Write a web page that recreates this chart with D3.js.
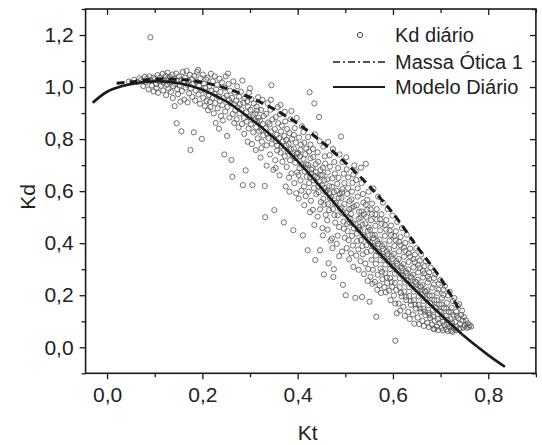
<!DOCTYPE html>
<html>
<head>
<meta charset="utf-8">
<script src="https://cdn.jsdelivr.net/npm/d3@7"></script>
<style>
  html, body { margin: 0; padding: 0; background: #fff; }
  svg { display: block; }
  text { font-family: "Liberation Sans", Arial, sans-serif; fill: #222; }
</style>
</head>
<body>
<svg id="chart" width="542" height="445"></svg>
<script>
// ---- data ----
const xTicks = [0, 0.2, 0.4, 0.6, 0.8];
const xTickLabels = ["0,0", "0,2", "0,4", "0,6", "0,8"];
const xMinorTicks = [0.1, 0.3, 0.5, 0.7, 0.9];
const yTicks = [0, 0.2, 0.4, 0.6, 0.8, 1.0, 1.2];
const yTickLabels = ["0,0", "0,2", "0,4", "0,6", "0,8", "1,0", "1,2"];
const yMinorTicks = [-0.1, 0.1, 0.3, 0.5, 0.7, 0.9, 1.1, 1.3];

const legendLabels = ["Kd diário", "Massa Ótica 1", "Modelo Diário"];

// Modelo Diário (solid curve)
const modeloKt = [-0.03, 0.0, 0.03, 0.06, 0.1, 0.13, 0.16, 0.2, 0.25, 0.3, 0.35, 0.4, 0.45, 0.5, 0.55, 0.6, 0.65, 0.7, 0.75, 0.8, 0.835];
const modeloKd = [0.94, 0.982, 1.003, 1.015, 1.022, 1.02, 1.012, 0.99, 0.945, 0.88, 0.805, 0.715, 0.612, 0.505, 0.403, 0.307, 0.215, 0.126, 0.042, -0.03, -0.075];

// Massa Ótica 1 (dashed curve)
const massaKt = [0.02, 0.05, 0.1, 0.15, 0.2, 0.25, 0.3, 0.35, 0.4, 0.45, 0.5, 0.55, 0.6, 0.65, 0.7, 0.742];
const massaKd = [1.015, 1.02, 1.03, 1.03, 1.018, 0.995, 0.96, 0.915, 0.86, 0.79, 0.71, 0.62, 0.515, 0.388, 0.265, 0.135];

// Kd diário observations: [Kt, Kd]
const kdDiario = [
[0.046,1.021],[0.057,1.028],[0.063,1.019],[0.068,1.034],[0.072,1.027],[0.076,1.004],[0.079,1.039],
[0.081,1.018],[0.084,1.032],[0.087,0.991],[0.089,1.041],
[0.091,1.191],[0.092,1.024],[0.094,1.006],[0.097,1.036],[0.098,0.983],
[0.101,1.031],[0.103,1.012],[0.106,1.046],[0.107,0.978],[0.109,1.022],[0.104,0.996],
[0.111,1.037],[0.113,1.005],[0.115,1.028],[0.117,1.051],[0.118,0.987],[0.119,1.016],
[0.121,1.024],[0.123,1.043],[0.124,0.969],[0.126,1.009],[0.128,1.033],[0.129,0.994],[0.127,1.055],
[0.131,1.018],[0.132,1.039],[0.134,0.982],[0.136,1.026],[0.137,1.048],[0.139,1.003],[0.138,0.958],
[0.141,1.031],[0.142,0.927],[0.143,1.011],[0.145,1.052],[0.146,0.861],[0.147,0.992],[0.148,1.024],[0.149,0.973],
[0.151,1.041],[0.152,1.006],[0.154,0.944],[0.155,1.029],[0.156,0.83],[0.157,0.985],[0.159,1.058],
[0.161,1.017],[0.162,0.952],[0.164,1.036],[0.165,0.998],[0.167,1.062],[0.168,1.009],[0.169,0.941],
[0.171,1.024],[0.172,0.976],[0.174,1.047],[0.175,0.758],[0.176,0.995],[0.178,1.031],[0.179,0.962],
[0.181,1.012],[0.182,0.826],[0.183,1.043],[0.185,0.948],[0.186,0.987],[0.187,1.021],[0.189,1.058],
[0.191,1.066],[0.192,0.971],[0.193,1.005],[0.195,0.936],[0.196,1.034],[0.198,0.99],[0.199,0.801],
[0.201,1.048],[0.202,0.958],[0.204,1.013],[0.205,0.927],[0.207,0.982],[0.208,1.029],[0.209,0.947],[0.206,0.998],
[0.211,1.036],[0.212,0.911],[0.214,0.969],[0.215,1.004],[0.216,0.943],[0.218,1.051],[0.219,0.985],[0.217,0.923],
[0.221,0.958],[0.222,1.022],[0.224,0.899],[0.225,0.975],[0.226,1.041],[0.227,0.938],[0.229,0.991],[0.228,0.862],
[0.231,1.009],[0.232,0.918],[0.234,0.963],[0.235,0.84],[0.236,1.032],[0.237,0.947],[0.238,0.981],[0.239,0.889],
[0.241,1.018],[0.242,0.93],[0.243,0.872],[0.245,0.958],[0.246,0.741],[0.247,0.997],[0.248,0.906],[0.249,1.041],
[0.251,0.967],[0.252,0.812],[0.253,0.924],[0.255,1.012],[0.256,0.951],[0.257,0.883],[0.258,0.986],[0.259,0.938],[0.254,1.052],
[0.261,0.72],[0.262,0.958],[0.263,0.655],[0.264,0.897],[0.265,1.022],[0.266,0.934],[0.267,0.862],[0.268,0.979],[0.269,0.911],
[0.271,0.948],[0.272,0.876],[0.273,1.003],[0.274,0.921],[0.276,0.845],[0.277,0.963],[0.278,0.899],[0.279,0.935],
[0.281,0.982],[0.282,0.914],[0.283,0.858],[0.284,1.025],[0.285,0.623],[0.286,0.939],[0.287,0.881],[0.288,0.82],[0.289,0.957],
[0.291,0.68],[0.292,0.903],[0.293,0.867],[0.294,0.946],[0.295,0.79],[0.296,0.924],[0.297,0.841],[0.298,0.978],[0.299,0.885],
[0.301,0.913],[0.302,0.857],[0.303,0.954],[0.304,0.781],[0.305,0.623],[0.306,0.892],[0.307,0.826],[0.308,0.937],[0.309,0.872],[0.3,0.995],
[0.311,0.898],[0.312,0.758],[0.313,0.846],[0.314,0.925],[0.315,0.869],[0.316,0.803],[0.317,0.961],[0.318,0.882],[0.319,0.829],[0.315,0.91],
[0.321,0.871],[0.322,0.729],[0.323,0.912],[0.324,0.835],[0.325,0.79],[0.326,0.951],[0.327,0.858],[0.328,0.814],[0.329,0.889],[0.324,0.765],
[0.331,0.62],[0.332,0.5],[0.333,0.842],[0.334,0.897],[0.335,0.776],[0.336,0.821],[0.337,0.938],[0.338,0.864],[0.339,0.804],[0.335,0.698],
[0.341,0.857],[0.342,0.741],[0.343,0.913],[0.344,0.829],[0.345,1.007],[0.346,0.782],[0.347,0.876],[0.348,0.806],[0.349,0.682],[0.344,0.951],
[0.351,0.527],[0.352,0.839],[0.353,0.719],[0.354,0.884],[0.355,0.792],[0.356,0.817],[0.357,0.756],[0.358,0.923],[0.359,0.861],[0.354,0.689],[0.357,0.775],
[0.361,0.804],[0.362,0.661],[0.363,0.896],[0.364,0.748],[0.365,0.829],[0.366,0.772],[0.367,0.852],[0.368,0.713],[0.369,0.791],[0.364,0.931],
[0.371,0.48],[0.372,0.812],[0.373,0.734],[0.374,0.868],[0.375,0.618],[0.376,0.776],[0.377,0.693],[0.378,0.839],[0.379,0.753],[0.373,0.905],[0.376,0.797],
[0.381,0.782],[0.382,0.652],[0.383,0.823],[0.384,0.719],[0.385,0.876],[0.386,0.761],[0.387,0.668],[0.388,0.801],[0.389,0.737],[0.383,0.598],[0.387,0.908],
[0.391,0.45],[0.392,0.764],[0.393,0.631],[0.394,0.842],[0.395,0.709],[0.396,0.787],[0.397,0.592],[0.398,0.743],[0.399,0.672],[0.392,0.816],[0.396,0.728],[0.398,0.881],
[0.401,0.747],[0.402,0.571],[0.403,0.806],[0.404,0.688],[0.405,0.733],[0.406,0.641],[0.407,0.779],[0.408,0.702],[0.409,0.849],[0.402,0.662],[0.406,0.758],[0.408,0.602],
[0.411,0.43],[0.412,0.724],[0.413,0.618],[0.414,0.786],[0.415,0.676],[0.416,0.742],[0.417,0.581],[0.418,0.703],[0.419,0.655],[0.412,0.827],[0.416,0.691],[0.418,0.764],[0.414,0.546],
[0.421,0.373],[0.422,0.701],[0.423,0.598],[0.424,0.752],[0.425,0.98],[0.426,0.654],[0.427,0.726],[0.428,0.563],[0.429,0.682],[0.422,0.808],[0.424,0.631],[0.427,0.779],[0.429,0.667],[0.426,0.519],
[0.431,0.688],[0.432,0.528],[0.433,0.731],[0.434,0.612],[0.435,0.937],[0.436,0.659],[0.437,0.335],[0.438,0.704],[0.439,0.589],[0.432,0.762],[0.434,0.641],[0.436,0.818],[0.438,0.674],[0.435,0.47],
[0.441,0.652],[0.442,0.502],[0.443,0.713],[0.444,0.596],[0.445,0.885],[0.446,0.638],[0.447,0.373],[0.448,0.681],[0.449,0.558],[0.442,0.749],[0.444,0.619],[0.446,0.792],[0.448,0.661],[0.447,0.53],
[0.451,0.623],[0.452,0.458],[0.453,0.689],[0.454,0.571],[0.455,0.28],[0.456,0.641],[0.457,0.734],[0.458,0.597],[0.459,0.509],[0.452,0.662],[0.454,0.771],[0.456,0.548],[0.458,0.706],[0.457,0.612],[0.453,0.43],
[0.461,0.601],[0.462,0.488],[0.463,0.672],[0.464,0.55],[0.465,0.323],[0.466,0.619],[0.467,0.738],[0.468,0.573],[0.469,0.41],[0.462,0.645],[0.464,0.789],[0.466,0.527],[0.468,0.694],[0.467,0.592],[0.463,0.452],
[0.471,0.578],[0.472,0.418],[0.473,0.649],[0.474,0.531],[0.475,0.27],[0.476,0.3],[0.477,0.712],[0.478,0.553],[0.479,0.479],[0.472,0.617],[0.474,0.762],[0.476,0.596],[0.478,0.668],[0.477,0.508],[0.473,0.381],
[0.481,0.556],[0.482,0.398],[0.483,0.628],[0.484,0.507],[0.485,0.689],[0.486,0.574],[0.487,0.462],[0.488,0.741],[0.489,0.531],[0.482,0.601],[0.484,0.429],[0.486,0.651],[0.488,0.589],[0.487,0.35],
[0.491,0.81],[0.492,0.537],[0.493,0.368],[0.494,0.608],[0.495,0.24],[0.496,0.483],[0.497,0.667],[0.498,0.551],[0.499,0.421],[0.492,0.574],[0.494,0.712],[0.496,0.514],[0.498,0.631],[0.497,0.456],[0.493,0.596],
[0.501,0.2],[0.502,0.518],[0.503,0.381],[0.504,0.589],[0.505,0.446],[0.506,0.653],[0.507,0.499],[0.508,0.338],[0.509,0.562],[0.502,0.73],[0.504,0.474],[0.506,0.612],[0.508,0.531],[0.507,0.412],[0.503,0.684],[0.509,0.48],
[0.511,0.494],[0.512,0.361],[0.513,0.568],[0.514,0.428],[0.515,0.632],[0.516,0.476],[0.517,0.309],[0.518,0.541],[0.519,0.699],[0.512,0.512],[0.514,0.598],[0.516,0.391],[0.518,0.457],[0.517,0.664],[0.513,0.535],
[0.521,0.19],[0.522,0.473],[0.523,0.352],[0.524,0.546],[0.525,0.408],[0.526,0.611],[0.527,0.452],[0.528,0.298],[0.529,0.521],[0.522,0.676],[0.524,0.437],[0.526,0.579],[0.528,0.494],[0.527,0.376],[0.523,0.643],[0.529,0.462],
[0.531,0.451],[0.532,0.331],[0.533,0.69],[0.534,0.522],[0.535,0.193],[0.536,0.389],[0.537,0.589],[0.538,0.431],[0.539,0.281],[0.532,0.498],[0.534,0.631],[0.536,0.471],[0.538,0.556],[0.537,0.357],[0.533,0.412],[0.539,0.51],
[0.541,0.424],[0.542,0.322],[0.543,0.705],[0.544,0.501],[0.545,0.366],[0.546,0.567],[0.547,0.447],[0.548,0.301],[0.549,0.598],[0.542,0.476],[0.544,0.392],[0.546,0.529],[0.548,0.412],[0.547,0.255],[0.543,0.548],[0.549,0.46],
[0.551,0.175],[0.552,0.404],[0.553,0.271],[0.554,0.488],[0.555,0.336],[0.556,0.552],[0.557,0.431],[0.558,0.298],[0.559,0.61],[0.552,0.451],[0.554,0.371],[0.556,0.512],[0.558,0.389],[0.557,0.244],[0.553,0.53],[0.559,0.42],
[0.561,0.384],[0.562,0.251],[0.563,0.467],[0.564,0.321],[0.565,0.117],[0.566,0.531],[0.567,0.408],[0.568,0.279],[0.569,0.579],[0.562,0.432],[0.564,0.352],[0.566,0.491],[0.568,0.369],[0.567,0.221],[0.563,0.511],[0.569,0.398],
[0.571,0.366],[0.572,0.238],[0.573,0.449],[0.574,0.302],[0.575,0.209],[0.576,0.511],[0.577,0.389],[0.578,0.262],[0.579,0.556],[0.572,0.414],[0.574,0.335],[0.576,0.474],[0.578,0.351],[0.577,0.29],[0.573,0.492],[0.579,0.378],
[0.581,0.347],[0.582,0.231],[0.583,0.428],[0.584,0.284],[0.585,0.211],[0.586,0.489],[0.587,0.369],[0.588,0.247],[0.589,0.531],[0.582,0.396],[0.584,0.318],[0.586,0.452],[0.588,0.333],[0.587,0.268],[0.583,0.47],[0.589,0.358],
[0.591,0.329],[0.592,0.218],[0.593,0.409],[0.594,0.266],[0.595,0.181],[0.596,0.468],[0.597,0.351],[0.598,0.232],[0.599,0.506],[0.592,0.378],[0.594,0.301],[0.596,0.431],[0.598,0.314],[0.597,0.251],[0.593,0.448],[0.599,0.34],
[0.601,0.31],[0.602,0.199],[0.603,0.389],[0.604,0.248],[0.605,0.025],[0.606,0.446],[0.607,0.331],[0.608,0.131],[0.609,0.482],[0.602,0.359],[0.604,0.283],[0.606,0.411],[0.608,0.296],[0.607,0.221],[0.603,0.427],[0.609,0.322],[0.605,0.168],
[0.611,0.292],[0.612,0.168],[0.613,0.369],[0.614,0.231],[0.615,0.141],[0.616,0.424],[0.617,0.311],[0.618,0.196],[0.619,0.458],[0.612,0.339],[0.614,0.266],[0.616,0.392],[0.618,0.278],[0.617,0.209],[0.613,0.405],[0.619,0.305],
[0.621,0.274],[0.622,0.156],[0.623,0.348],[0.624,0.214],[0.625,0.121],[0.626,0.401],[0.627,0.292],[0.628,0.181],[0.629,0.433],[0.622,0.319],[0.624,0.249],[0.626,0.371],[0.628,0.258],[0.627,0.194],[0.623,0.383],[0.629,0.286],
[0.631,0.256],[0.632,0.136],[0.633,0.328],[0.634,0.197],[0.635,0.109],[0.636,0.379],[0.637,0.272],[0.638,0.163],[0.639,0.408],[0.632,0.299],[0.634,0.231],[0.636,0.349],[0.638,0.241],[0.637,0.178],[0.633,0.361],[0.639,0.268],
[0.641,0.238],[0.642,0.126],[0.643,0.307],[0.644,0.181],[0.645,0.091],[0.646,0.356],[0.647,0.252],[0.648,0.149],[0.649,0.381],[0.642,0.279],[0.644,0.214],[0.646,0.327],[0.648,0.224],[0.647,0.164],[0.643,0.339],[0.649,0.25],
[0.651,0.22],[0.652,0.114],[0.653,0.288],[0.654,0.163],[0.655,0.089],[0.656,0.333],[0.657,0.234],[0.658,0.136],[0.659,0.356],[0.652,0.259],[0.654,0.196],[0.656,0.305],[0.658,0.206],[0.657,0.149],[0.653,0.317],[0.659,0.232],
[0.661,0.202],[0.662,0.101],[0.663,0.268],[0.664,0.147],[0.665,0.082],[0.666,0.311],[0.667,0.216],[0.668,0.124],[0.669,0.331],[0.662,0.239],[0.664,0.178],[0.666,0.284],[0.668,0.188],[0.667,0.137],[0.663,0.294],[0.669,0.213],
[0.671,0.184],[0.672,0.094],[0.673,0.249],[0.674,0.132],[0.675,0.078],[0.676,0.288],[0.677,0.198],[0.678,0.112],[0.679,0.306],[0.672,0.219],[0.674,0.161],[0.676,0.262],[0.678,0.171],[0.677,0.125],[0.673,0.272],
[0.681,0.166],[0.682,0.087],[0.683,0.229],[0.684,0.118],[0.685,0.072],[0.686,0.266],[0.687,0.181],[0.688,0.102],[0.689,0.281],[0.682,0.199],[0.684,0.144],[0.686,0.241],[0.688,0.154],[0.687,0.069],
[0.691,0.151],[0.692,0.079],[0.693,0.209],[0.694,0.108],[0.695,0.066],[0.696,0.244],[0.697,0.165],[0.698,0.093],[0.699,0.258],[0.692,0.181],[0.694,0.128],[0.696,0.221],[0.698,0.139],
[0.701,0.136],[0.702,0.074],[0.703,0.19],[0.704,0.098],[0.705,0.065],[0.706,0.222],[0.707,0.151],[0.708,0.085],[0.709,0.236],[0.702,0.165],[0.704,0.117],[0.706,0.201],
[0.711,0.121],[0.712,0.069],[0.713,0.171],[0.714,0.089],[0.715,0.062],[0.716,0.199],[0.717,0.137],[0.718,0.078],[0.719,0.213],[0.712,0.149],[0.714,0.105],
[0.721,0.108],[0.722,0.064],[0.723,0.152],[0.724,0.083],[0.725,0.06],[0.726,0.178],[0.727,0.124],[0.728,0.072],[0.729,0.189],[0.722,0.134],[0.724,0.095],
[0.731,0.098],[0.732,0.066],[0.733,0.136],[0.734,0.079],[0.736,0.159],[0.737,0.112],[0.738,0.071],[0.739,0.166],[0.734,0.121],
[0.741,0.09],[0.742,0.072],[0.743,0.124],[0.745,0.141],[0.746,0.102],[0.748,0.076],[0.749,0.116],
[0.751,0.084],[0.753,0.103],[0.755,0.075],[0.757,0.092],[0.759,0.078],
[0.761,0.085],[0.764,0.08]
];

// ---- chart ----
const svg = d3.select("#chart");
const x = d3.scaleLinear().domain([-0.045, 0.9]).range([85.6, 535.9]);
const y = d3.scaleLinear().domain([-0.1, 1.3]).range([373.3, 9]);
const ink = "#1b1b1b";

// scatter
svg.append("g")
  .selectAll("circle")
  .data(kdDiario)
  .join("circle")
  .attr("cx", d => x(d[0]))
  .attr("cy", d => y(d[1]))
  .attr("r", 2.6)
  .attr("fill", "none")
  .attr("stroke", "#595959")
  .attr("stroke-width", 0.85);

// curves
const massa = massaKt.map((k, i) => [k, massaKd[i]]);
const modelo = modeloKt.map((k, i) => [k, modeloKd[i]]);
const line = d3.line().x(d => x(d[0])).y(d => y(d[1])).curve(d3.curveCatmullRom.alpha(0.5));

svg.append("path").datum(massa)
  .attr("d", line)
  .attr("fill", "none")
  .attr("stroke", ink)
  .attr("stroke-width", 3)
  .attr("stroke-dasharray", "8,5");

svg.append("path").datum(modelo)
  .attr("d", line)
  .attr("fill", "none")
  .attr("stroke", ink)
  .attr("stroke-width", 2.6);

// axes
const pBottom = y.range()[0], pTop = y.range()[1];
const pLeft = x.range()[0], pRight = x.range()[1];

function styleAxis(g) {
  g.select(".domain").remove();
  g.selectAll(".tick line").attr("stroke", ink).attr("stroke-width", 1.3);
  g.selectAll(".tick text").style("font-size", "21px").attr("fill", "#222")
    .style("font-family", '"Liberation Sans", Arial, sans-serif');
}

svg.append("g").attr("transform", `translate(0,${pBottom})`)
  .call(d3.axisBottom(x).tickValues(xTicks).tickSize(6).tickPadding(8)
    .tickFormat((d, i) => xTickLabels[i]))
  .call(styleAxis);
svg.append("g").attr("transform", `translate(0,${pBottom})`)
  .call(d3.axisBottom(x).tickValues(xMinorTicks).tickSize(4).tickFormat(""))
  .call(styleAxis);
svg.append("g").attr("transform", `translate(0,${pTop})`)
  .call(d3.axisTop(x).tickValues(xTicks).tickSize(-6).tickFormat(""))
  .call(styleAxis);
svg.append("g").attr("transform", `translate(0,${pTop})`)
  .call(d3.axisTop(x).tickValues(xMinorTicks).tickSize(-4).tickFormat(""))
  .call(styleAxis);

svg.append("g").attr("transform", `translate(${pLeft},0)`)
  .call(d3.axisLeft(y).tickValues(yTicks).tickSize(6).tickPadding(6)
    .tickFormat((d, i) => yTickLabels[i]))
  .call(styleAxis);
svg.append("g").attr("transform", `translate(${pLeft},0)`)
  .call(d3.axisLeft(y).tickValues(yMinorTicks).tickSize(4).tickFormat(""))
  .call(styleAxis);
svg.append("g").attr("transform", `translate(${pRight},0)`)
  .call(d3.axisRight(y).tickValues(yTicks).tickSize(-6).tickFormat(""))
  .call(styleAxis);
svg.append("g").attr("transform", `translate(${pRight},0)`)
  .call(d3.axisRight(y).tickValues(yMinorTicks).tickSize(-4).tickFormat(""))
  .call(styleAxis);

// frame
svg.append("rect")
  .attr("x", pLeft).attr("y", pTop)
  .attr("width", pRight - pLeft).attr("height", pBottom - pTop)
  .attr("fill", "none").attr("stroke", ink).attr("stroke-width", 1.6);

// axis titles
svg.append("text")
  .attr("x", (pLeft + pRight) / 2 - 3).attr("y", 440)
  .attr("text-anchor", "middle")
  .style("font-size", "21px")
  .text("Kt");
svg.append("text")
  .attr("transform", `translate(35,197) rotate(-90)`)
  .attr("text-anchor", "middle")
  .style("font-size", "21px")
  .text("Kd");

// legend
const lg = svg.append("g");
const rows = [35, 62, 87];
lg.append("circle").attr("cx", 360).attr("cy", rows[0]).attr("r", 2.6)
  .attr("fill", "none").attr("stroke", "#444").attr("stroke-width", 1);
lg.append("line").attr("x1", 333).attr("x2", 385).attr("y1", rows[1]).attr("y2", rows[1])
  .attr("stroke", ink).attr("stroke-width", 1.6).attr("stroke-dasharray", "7,3,2,3");
lg.append("line").attr("x1", 333).attr("x2", 385).attr("y1", rows[2]).attr("y2", rows[2])
  .attr("stroke", ink).attr("stroke-width", 1.8);
lg.selectAll("text.lab").data(legendLabels).join("text")
  .attr("class", "lab")
  .attr("x", 395).attr("y", (d, i) => rows[i])
  .attr("dy", "0.35em")
  .style("font-size", "20px")
  .text(d => d);
</script>
</body>
</html>
